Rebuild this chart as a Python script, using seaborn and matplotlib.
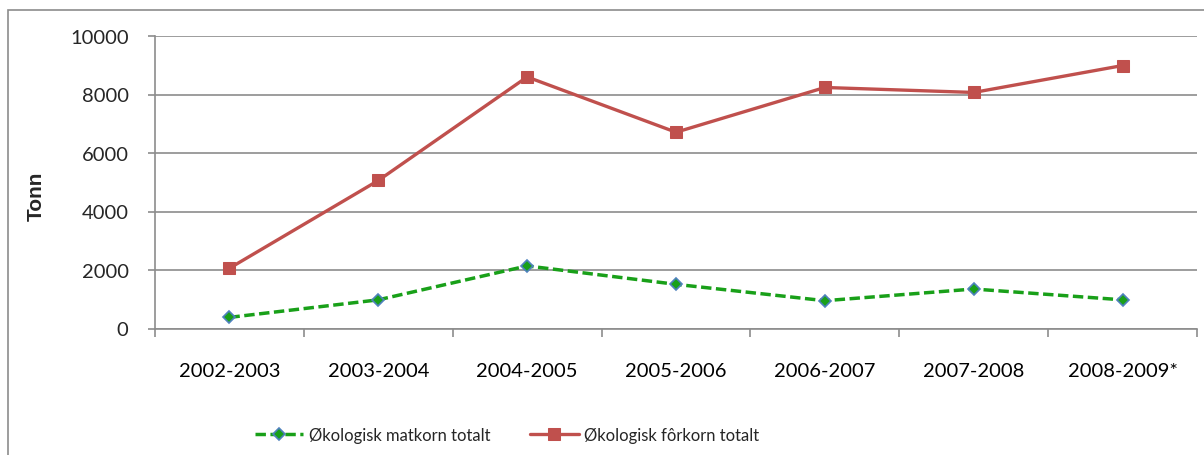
import pandas as pd
import matplotlib
matplotlib.use('Agg')
import matplotlib.pyplot as plt
import matplotlib.patches as mpatches
import seaborn as sns

# data
seasons = ['2002-2003', '2003-2004', '2004-2005', '2005-2006',
           '2006-2007', '2007-2008', '2008-2009*']
matkorn = [380, 980, 2140, 1510, 950, 1350, 980]
forkorn = [2060, 5060, 8600, 6710, 8240, 8070, 8990]
label_mat = 'Økologisk matkorn totalt'
label_for = 'Økologisk fôrkorn totalt'

GREEN = '#19A019'
BLUE = '#4F81BD'
RED = '#C0504D'
GRID = '#8C8C8C'

sns.set_theme(style='white')
plt.rcParams['font.family'] = ['Lato', 'DejaVu Sans']

df = pd.DataFrame({'season': seasons, 'matkorn': matkorn, 'forkorn': forkorn})

W, H = 1204, 456
fig = plt.figure(figsize=(W / 100, H / 100), dpi=100)
ax = fig.add_axes([155 / W, 1 - 329.5 / H, (1197 - 155) / W, (329.5 - 37) / H])

sns.lineplot(data=df, x='season', y='matkorn', ax=ax, color=GREEN, lw=2.5,
             dashes=False, linestyle=(0, (3, 1.3)), marker='D', markersize=6.5,
             markerfacecolor=GREEN, markeredgecolor=BLUE, markeredgewidth=1.2,
             label=label_mat, sort=False)
sns.lineplot(data=df, x='season', y='forkorn', ax=ax, color=RED, lw=2.4,
             marker='s', markersize=8.5, markerfacecolor=RED, markeredgecolor=RED,
             label=label_for, sort=False)

ax.set_xlim(-0.5, len(seasons) - 0.5)
ax.set_ylim(0, 10000)
ax.set_yticks(range(0, 10001, 2000))
ax.yaxis.grid(True, color=GRID, lw=1.2)
ax.xaxis.grid(False)
ax.set_xticks(range(len(seasons)))
ax.set_xticklabels(seasons)
ax.set_xticks([i + 0.5 for i in range(-1, len(seasons))], minor=True)
ax.tick_params(axis='x', which='major', length=0, pad=24, labelsize=14.5, colors='black')
ax.tick_params(axis='x', which='minor', length=6, width=1.2, color=GRID, direction='out', bottom=True)
ax.tick_params(axis='y', length=5, width=1.2, color=GRID, pad=14, labelsize=14.5, left=True)

for side in ['top', 'right']:
    ax.spines[side].set_visible(False)
for side in ['left', 'bottom']:
    ax.spines[side].set_color(GRID)
    ax.spines[side].set_linewidth(1.2)

ax.set_xlabel('')
ax.set_ylabel('')
fig.text(36 / W, 1 - 196 / H, 'Tonn', rotation=90, ha='center', va='center',
         fontsize=15, fontweight='bold', family=['Liberation Sans', 'DejaVu Sans'])

ax.get_legend().remove()
handles, labels = ax.get_legend_handles_labels()
fig.legend(handles, labels, loc='center', bbox_to_anchor=(507 / W, 1 - 436 / H),
           ncol=2, frameon=False, fontsize=12, handlelength=2.9,
           handletextpad=0.35, columnspacing=2.4)

# outer chart border (clipped at right and bottom like the reference)
fig.patches.append(mpatches.Rectangle((8 / W, -0.1), 1.2, 1 - 11 / H + 0.1,
                                      transform=fig.transFigure, fill=False,
                                      edgecolor=GRID, lw=1.2))

fig.savefig('out.png', dpi=100)
